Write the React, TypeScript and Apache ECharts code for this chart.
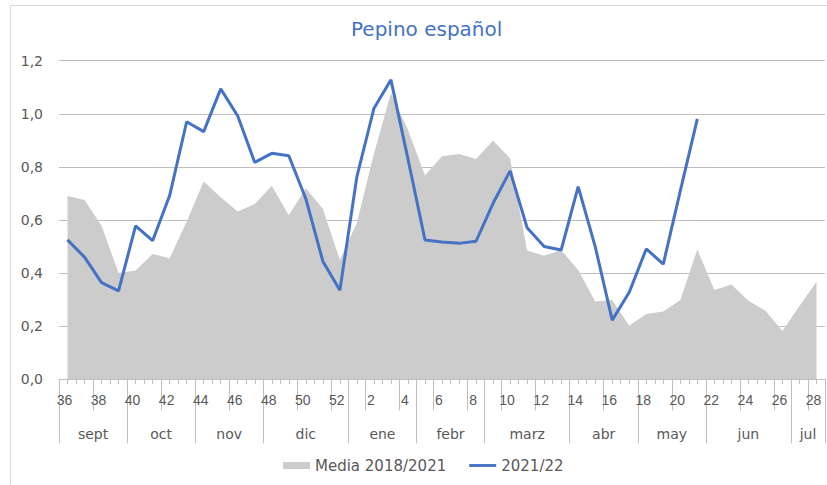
import React, { useEffect, useRef } from "react";
import * as echarts from "echarts";

const weeks = [
  "36", "37", "38", "39", "40", "41", "42", "43", "44", "45", "46", "47", "48", "49", "50", "51", "52",
  "1", "2", "3", "4", "5", "6", "7", "8", "9", "10", "11", "12", "13", "14", "15", "16", "17", "18", "19", "20",
  "21", "22", "23", "24", "25", "26", "27", "28",
];

const media = [
  0.69, 0.675, 0.578, 0.40, 0.41, 0.472, 0.456, 0.594, 0.745, 0.686, 0.632, 0.66, 0.729, 0.618, 0.72, 0.642, 0.449,
  0.59, 0.85, 1.077, 0.94, 0.768, 0.84, 0.849, 0.83, 0.899, 0.832, 0.485, 0.465, 0.487, 0.412, 0.293, 0.299, 0.202,
  0.246, 0.255, 0.299, 0.489, 0.336, 0.357, 0.296, 0.258, 0.182, 0.276, 0.367,
];

const season2122 = [
  0.525, 0.46, 0.364, 0.333, 0.578, 0.522, 0.692, 0.97, 0.933, 1.094, 0.992, 0.817, 0.851, 0.842, 0.68, 0.445, 0.335,
  0.763, 1.02, 1.128, 0.83, 0.525, 0.517, 0.512, 0.52, 0.663, 0.785, 0.571, 0.5, 0.487, 0.726, 0.5, 0.223, 0.328,
  0.491, 0.434, 0.71, 0.981, null, null, null, null, null, null, null,
];

const months = ["sept", "oct", "nov", "dic", "ene", "febr", "marz", "abr", "may", "jun", "jul"];
const monthWeeks = [4, 4, 4, 5, 4, 4, 5, 4, 4, 5, 2];

const seriesNames = ["Media 2018/2021", "2021/22"];
const titleText = "Pepino español";

const GRAY_TEXT = "#595959";
const LINE_GRAY = "#BFBFBF";
const FONT = "'DejaVu Sans', sans-serif";

export default function App() {
  const ref = useRef<HTMLDivElement>(null);

  useEffect(() => {
    if (!ref.current) return;
    const chart = echarts.init(ref.current, null, { renderer: "svg" });

    const n = weeks.length;
    const monthBounds: number[] = [0];
    const monthCenters: number[] = [];
    let acc = 0;
    monthWeeks.forEach((w) => {
      monthCenters.push(acc + w / 2);
      acc += w;
      monthBounds.push(acc);
    });
    const halfTicks: number[] = [];
    for (let k = 0; k <= n * 2; k++) halfTicks.push(k / 2);
    const evenBounds: number[] = [];
    for (let k = 0; k < n; k += 2) evenBounds.push(k);

    const valueAxisBase = {
      type: "value",
      min: 0,
      max: n,
      position: "bottom",
      axisLine: { show: false },
      splitLine: { show: false },
    };

    chart.setOption({
      animation: false,
      title: {
        text: titleText,
        left: 351,
        top: 19,
        padding: 0,
        textStyle: { color: "#4472C4", fontSize: 20, fontWeight: "normal", fontFamily: FONT },
      },
      legend: {
        left: 283,
        top: 458,
        padding: 0,
        itemGap: 23,
        itemWidth: 27,
        itemHeight: 7,
        textStyle: { color: GRAY_TEXT, fontSize: 15, fontFamily: FONT },
        data: [
          { name: seriesNames[0], icon: "rect" },
          { name: seriesNames[1], icon: "path://M0,0H28V3H0Z" },
        ],
      },
      graphic: [
        {
          type: "rect",
          shape: { x: 10.5, y: 5.5, width: 900, height: 600 },
          style: { fill: "none", stroke: "#D9D9D9", lineWidth: 1 },
          silent: true,
        },
      ],
      grid: { left: 59, right: 2, top: 60.7, bottom: 105.7, containLabel: false },
      xAxis: [
        {
          type: "category",
          data: weeks,
          boundaryGap: true,
          axisLine: { show: true, lineStyle: { color: LINE_GRAY } },
          axisTick: { show: false },
          splitLine: { show: false },
          axisLabel: {
            interval: 1,
            color: GRAY_TEXT,
            fontSize: 14,
            fontFamily: "'Liberation Sans Narrow', 'Liberation Sans', sans-serif",
            margin: 14,
            padding: [0, 6, 0, 0],
          },
        },
        {
          ...valueAxisBase,
          axisTick: { show: true, customValues: halfTicks, length: 5, lineStyle: { color: LINE_GRAY } },
          axisLabel: { show: false },
        },
        {
          ...valueAxisBase,
          axisTick: { show: true, customValues: evenBounds, length: 31, lineStyle: { color: LINE_GRAY } },
          axisLabel: { show: false },
        },
        {
          ...valueAxisBase,
          axisTick: { show: true, customValues: monthBounds, length: 64, lineStyle: { color: LINE_GRAY } },
          axisLabel: {
            show: true,
            customValues: monthCenters,
            color: GRAY_TEXT,
            fontSize: 14,
            fontFamily: FONT,
            margin: 48,
            formatter: (v: number) => {
              const idx = monthCenters.findIndex((c) => Math.abs(c - v) < 1e-6);
              return idx >= 0 ? months[idx] : "";
            },
          },
        },
      ],
      yAxis: {
        type: "value",
        min: 0,
        max: 1.2,
        interval: 0.2,
        axisLine: { show: false },
        axisTick: { show: false },
        splitLine: { show: true, lineStyle: { color: LINE_GRAY, width: 1 } },
        axisLabel: {
          color: GRAY_TEXT,
          fontSize: 14,
          fontFamily: FONT,
          margin: 16,
          formatter: (v: number) => v.toFixed(1).replace(".", ","),
        },
      },
      series: [
        {
          name: seriesNames[0],
          type: "line",
          xAxisIndex: 0,
          data: media,
          symbol: "none",
          lineStyle: { width: 0, color: "#CCCCCC" },
          itemStyle: { color: "#CCCCCC" },
          areaStyle: { color: "#CCCCCC", opacity: 1 },
          z: 1,
        },
        {
          name: seriesNames[1],
          type: "line",
          xAxisIndex: 0,
          data: season2122,
          symbol: "none",
          connectNulls: false,
          lineStyle: { width: 3, color: "#4472C4" },
          itemStyle: { color: "#4472C4" },
          z: 3,
        },
      ],
    });

    return () => chart.dispose();
  }, []);

  return (
    <div
      ref={ref}
      style={{ position: "absolute", left: 0, top: 0, width: 827, height: 485, background: "#fff" }}
    />
  );
}
